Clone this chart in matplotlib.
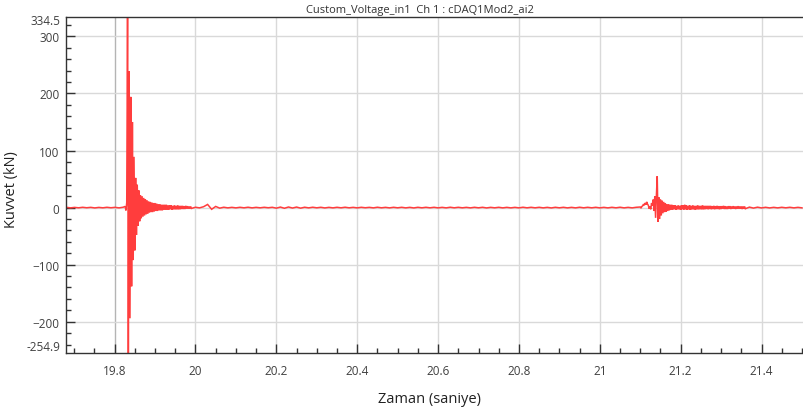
import numpy as np
import matplotlib
matplotlib.use("Agg")
import matplotlib.pyplot as plt
from matplotlib.ticker import MultipleLocator, FuncFormatter

plt.rcParams['font.family'] = ['Open Sans', 'DejaVu Sans']

# Force signal (kN), recorded in segments: (start time [s], sample step [s], values)
pre_start, pre_step = 19.681, 0.01
pre_force = [0.4, -0.5, 0.3, -0.4, 0.5, -0.3, 0.4, -0.6, 0.3, -0.4,
             0.5, -0.3, 0.4, -0.5, 0.6]

impact1_start, impact1_step = 19.826, 0.002
impact1_force = [2, -5, 9, 334.5, -254.9, 239, -194, 194, -138, 150,
                 -92, 89, -75, 52, -48, 40, -32, 30, -24, 22,
                 -19, 20, -16, 17, -14, 15, -12, 13, -11, 11,
                 -9, 10, -8, 9, -8, 8, -7, 8, -6, 7,
                 -6, 6, -5, 6, -5, 5, -5, 5, -4, 5,
                 -4, 5, -4, 4, -4, 4, -3, 4, -4, 3,
                 -3, 4, -3, 3, -3, 4, -3, 3, -3, 3,
                 -2.5, 3, -2.5, 2.5, -2.5, 3, -2, 2.5, -2, 2,
                 -2, 2, -1.5]

mid_start, mid_step = 20.00, 0.01
mid_force = [0.6, -0.5, 1.5, 5.5, -3.0, 2.0, -1.0, 0.6, -0.5, 0.4,
             -0.5, 0.5, -0.4, 0.6, -0.5, 0.4, -0.4, 0.5, -0.3, 0.5,
             -1.0, 0.9, -1.2, 1.0, -0.8, 0.9, -1.0, 0.6, -0.5, 0.6,
             -0.4, 0.5, -0.6, 0.4, -0.5, 0.5, -0.4, 0.6, -0.4, 0.4,
             -0.5, 0.5, -0.3, 0.4, -0.5, 0.6, -0.4, 0.4, -0.5, 0.5,
             -0.4, 0.5, -0.5, 0.4, -0.6, 0.5, -0.4, 0.5, -0.4, 0.5,
             -0.5, 0.4, -0.5, 0.6, -0.4, 0.5, -0.4, 0.4, -0.5, 0.5,
             -0.4, 0.5, -0.6, 0.4, -0.4, 0.5, -0.5, 0.4, -0.5, 0.4,
             -0.5, 0.6, -0.4, 0.5, -0.4, 0.5, -0.5, 0.4, -0.6, 0.5,
             -0.4, 0.5, -0.5, 0.4, -0.5, 0.6, -0.4, 0.5, -0.4, 0.5,
             -0.5, 0.4, -0.5, 0.5, -0.4, 0.6, -0.5, 0.4, -0.5, 0.5]

impact2_start, impact2_step = 21.100, 0.002
impact2_force = [1, -1, 2, 3, 6, 4, 8, 5, 10, 6,
                 4, -2, 2, -3, 8, 3, 14, -6, 20, -18,
                 22, 55, -25, 18, -20, 14, -14, 12, -10, 10,
                 -8, 8, -7, 6, -6, 6, -5, 5, -4, 5,
                 -4, 4, -3, 4, -4, 3, -3, 4, -3, 3,
                 -4, 4, -3, 4, -4, 5, -3, 4, -4, 3,
                 -3, 4, -4, 3, -3, 4, -3, 3, -4, 3,
                 -3, 4, -3, 3, -3, 3, -3, 4, -3, 3,
                 -3, 3, -2.5, 3, -3, 3, -2.5, 3, -3, 2.5,
                 -2.5, 3, -3, 2.5, -2.5, 3, -2.5, 2.5, -3, 2.5,
                 -2.5, 2.5, -2, 3, -2.5, 2.5, -2.5, 2, -2.5, 2.5,
                 -2, 2.5, -2.5, 2, -2, 2.5, -2, 2, -2.5, 2,
                 -2, 2.5, -2, 2, -2, 2, -2.5, 2, -2, 2, -2]

post_start, post_step = 21.37, 0.01
post_force = [0.8, -0.9, 0.7, -0.6, 0.5, -0.6, 0.4, -0.5, 0.5, -0.4,
              0.5, -0.5, 0.4, -0.5]

segments = [(pre_start, pre_step, pre_force),
            (impact1_start, impact1_step, impact1_force),
            (mid_start, mid_step, mid_force),
            (impact2_start, impact2_step, impact2_force),
            (post_start, post_step, post_force)]

time = np.concatenate([s + d * np.arange(len(v)) for s, d, v in segments])
force = np.concatenate([np.asarray(v, float) for _, _, v in segments])

x_ticks = [19.8, 20.0, 20.2, 20.4, 20.6, 20.8, 21.0, 21.2, 21.4]
y_ticks = [-200, -100, 0, 100, 200, 300]
x_range = (19.681, 21.505)
y_range = (-254.9, 334.5)

title = "Custom_Voltage_in1  Ch 1 : cDAQ1Mod2_ai2"
x_label = "Zaman (saniye)"
y_label = "Kuvvet (kN)"

fig = plt.figure(figsize=(8.04, 4.14), dpi=100)
ax = fig.add_axes([0.0827, 0.1449, 0.9173, 0.8123])

ax.plot(time, force, color='#ff3d3d', lw=1.1, solid_joinstyle='miter')

ax.set_xlim(*x_range)
ax.set_ylim(*y_range)
ax.set_xticks(x_ticks)
ax.set_yticks(y_ticks)
ax.xaxis.set_minor_locator(MultipleLocator(0.05))
ax.yaxis.set_minor_locator(MultipleLocator(20))
ax.xaxis.set_major_formatter(FuncFormatter(lambda v, p: f"{v:g}"))

ax.grid(True, which='major', color='#d9d9d9', lw=1.0)
ax.set_axisbelow(True)
# first vertical grid line is drawn a little darker
ax.xaxis.get_gridlines()[0].set_color('#b4b4b4')

ax.tick_params(which='major', direction='in', length=6.5, width=1.0,
               color='#333333', labelsize=8.5, labelcolor='#404040')
ax.tick_params(which='minor', direction='in', length=3.5, width=1.0,
               color='#333333')
ax.tick_params(axis='x', which='major', pad=8)
ax.tick_params(axis='y', which='major', pad=5)

for side in ('left', 'bottom', 'top'):
    ax.spines[side].set_color('#333333')
    ax.spines[side].set_linewidth(1.0)
ax.spines['right'].set_visible(False)

# range end labels on the force axis
for val, dy in ((y_range[1], -3), (y_range[0], 5)):
    ax.annotate(f"{val:g}", xy=(0, val), xycoords=('axes fraction', 'data'),
                xytext=(-4.7, dy), textcoords='offset points',
                ha='right', va='center', fontsize=8.5, color='#404040',
                annotation_clip=False)

fig.text(420 / 804, 1 - 10 / 414, title, ha='center', va='center',
         fontsize=8, color='#333333')
fig.text(430 / 804, 1 - 400 / 414, x_label, ha='center', va='center',
         fontsize=10.5, color='#222222')
fig.text(12 / 804, 1 - 190 / 414, y_label, ha='center', va='center',
         rotation=90, fontsize=10.5, color='#222222')

fig.savefig("out.png", dpi=100)
